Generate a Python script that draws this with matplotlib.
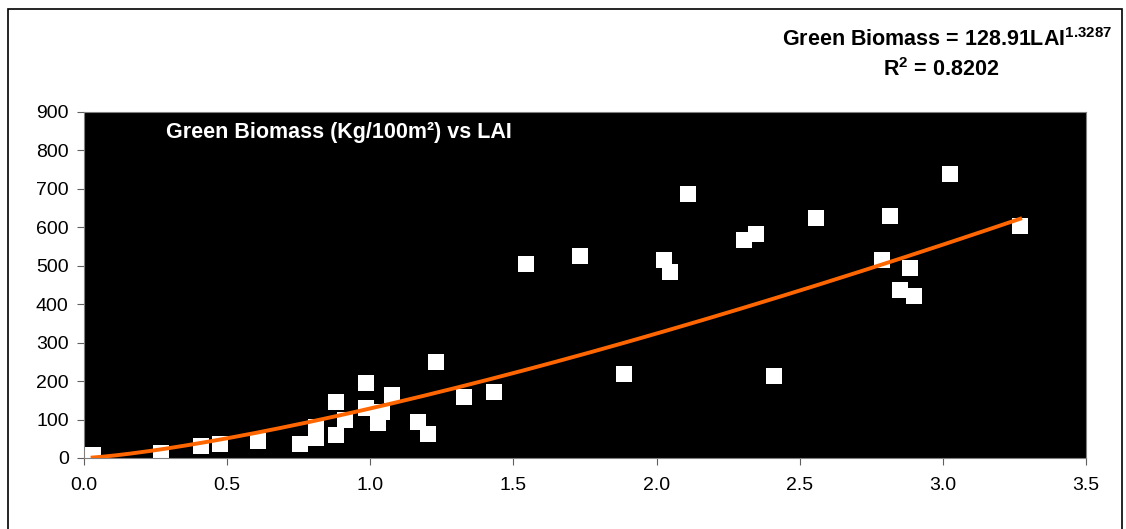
import numpy as np
import matplotlib
matplotlib.use("Agg")
import matplotlib.pyplot as plt
from matplotlib.patches import Rectangle

plt.rcParams['font.family'] = ['Liberation Sans', 'DejaVu Sans']
plt.rcParams['mathtext.fontset'] = 'custom'
plt.rcParams['mathtext.rm'] = 'Liberation Sans'
plt.rcParams['mathtext.bf'] = 'Liberation Sans:bold'

# field samples: leaf area index vs green biomass (Kg/100m2)
lai = [0.03, 0.27, 0.41, 0.475, 0.607, 0.754, 0.81, 0.81, 0.88, 0.88,
       0.91, 0.985, 0.985, 1.027, 1.04, 1.075, 1.167, 1.20, 1.23, 1.327,
       1.432, 1.544, 1.732, 1.886, 2.026, 2.047, 2.11, 2.305, 2.347, 2.41,
       2.557, 2.787, 2.815, 2.85, 2.885, 2.9, 3.025, 3.27]
biomass = [8, 12, 31, 36, 43, 36, 81, 52, 146, 60,
           99, 195, 130, 91, 120, 164, 94, 62, 250, 158,
           172, 505, 525, 218, 515, 484, 687, 567, 583, 213,
           625, 515, 630, 437, 494, 421, 739, 603]

# power trendline
coef = 128.91
expo = 1.3287
r2 = 0.8202

xticks = [0.0, 0.5, 1.0, 1.5, 2.0, 2.5, 3.0, 3.5]
yticks = list(range(0, 901, 100))

fig = plt.figure(figsize=(11.26, 5.29), dpi=100)
ax = fig.add_axes([84 / 1126, 1 - 458 / 529, 1002 / 1126, 346 / 529])
ax.set_facecolor('black')

ax.scatter(lai, biomass, marker='s', s=135, c='white', linewidths=0, zorder=2)

xs = np.linspace(min(lai), max(lai), 200)
ax.plot(xs, coef * xs ** expo, color='#FF6600', lw=2.8, zorder=3)

ax.set_xlim(0, 3.5)
ax.set_ylim(0, 900)
ax.set_xticks(xticks)
ax.set_xticklabels(['%.1f' % v for v in xticks])
ax.set_yticks(yticks)
ax.tick_params(labelsize=14, length=5, color='#606060')
ax.tick_params(axis='x', pad=9)
ax.tick_params(axis='y', pad=6)
for s in ax.spines.values():
    s.set_color('#808080')

ax.text(0.082, 0.942, 'Green Biomass (Kg/100m\u00b2) vs LAI', transform=ax.transAxes,
        color='white', fontsize=15.5, fontweight='bold', ha='left', va='center')

fig.text(947 / 1126, 1 - 40 / 529, r'Green Biomass = 128.91LAI$^{\mathbf{1.3287}}$',
         fontsize=15.5, fontweight='bold', ha='center', va='center')
fig.text(941 / 1126, 1 - 70 / 529, r'R$^{\mathbf{2}}$ = 0.8202',
         fontsize=15.5, fontweight='bold', ha='center', va='center')

# outer chart border
fig.patches.append(Rectangle((8 / 1126, -0.02), 1114 / 1126, 1.02 - 9 / 529,
                             transform=fig.transFigure, fill=False,
                             edgecolor='black', lw=1.2))

fig.savefig('out.png', dpi=100)
